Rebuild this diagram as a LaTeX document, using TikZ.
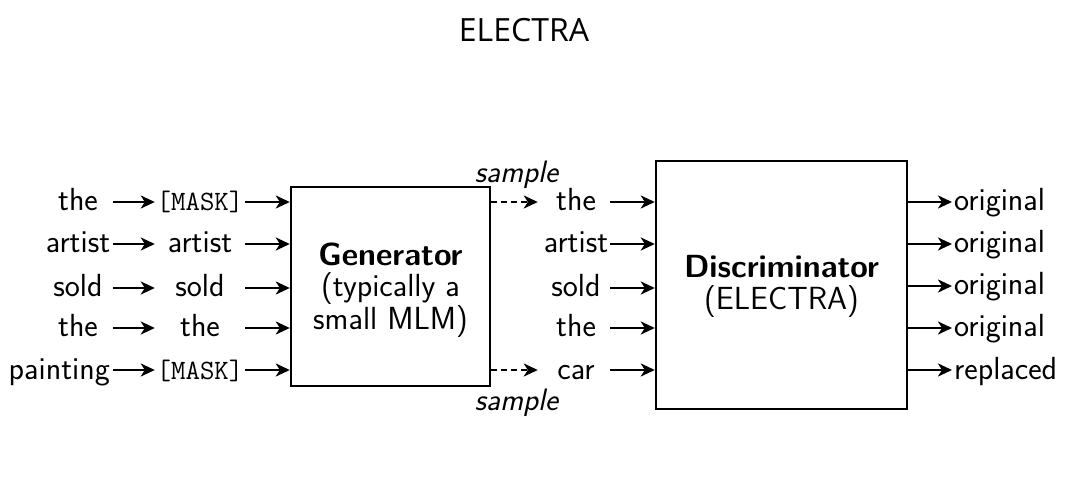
\documentclass[tikz,border=0pt]{standalone}
\usepackage{fontspec}
\newfontfamily\titlefont{Open Sans}
\usetikzlibrary{arrows.meta}
\begin{document}
\begin{tikzpicture}[x=1pt,y=-1pt,
  txt/.style={font=\sffamily\fontsize{32}{34}\selectfont, inner ysep=0pt, inner xsep=0pt, text height=22pt, text depth=4pt},
  masktxt/.style={txt, font=\ttfamily\fontsize{28}{34}\selectfont},
  col1/.style={txt, minimum width=70pt},
  col2/.style={txt, minimum width=90pt},
  col3/.style={txt, minimum width=68pt},
  col2m/.style={masktxt, minimum width=90pt},
  outtxt/.style={txt, anchor=west, inner xsep=2pt},
  arr/.style={-{Stealth[length=14pt,width=13pt,inset=4pt]}, line width=2.2pt},
  darr/.style={arr, dash pattern=on 6pt off 4pt, shorten >=4pt},
  smp/.style={font=\sffamily\itshape\fontsize{31}{34}\selectfont, inner sep=0pt},
  bigbox/.style={draw, line width=2.4pt},
  boxtxt/.style={font=\sffamily\fontsize{32}{31}\selectfont, align=center}
]
\useasboundingbox (0,0) rectangle (1080,481);
\node[font=\titlefont\fontsize{32}{34}\selectfont] (title) at (524,30) {ELECTRA};

% boxes
\node[bigbox, minimum width=199pt, minimum height=199pt] (gen) at (390.5,286.5) {};
\node[boxtxt] (gentxt) at (390.5,290) {\textbf{Generator}\\(typically a\\small MLM)};
\node[bigbox, minimum width=251pt, minimum height=248pt] (disc) at (781.5,285) {};
\node[boxtxt, font=\sffamily\fontsize{32}{32}\selectfont] (disctxt) at (781.5,286) {\textbf{Discriminator}\\(ELECTRA)};

% column 1
\node[col1] (a1) at (78,202) {the};
\node[col1] (a2) at (78,244) {artist};
\node[col1] (a3) at (78,288) {sold};
\node[col1] (a4) at (78,328) {the};
\node[txt, anchor=east, inner xsep=3pt] (a5) at (113,370) {painting};

% column 2
\node[col2m] (b1) at (200,202) {[MASK]};
\node[col2] (b2) at (200,244) {artist};
\node[col2] (b3) at (200,288) {sold};
\node[col2] (b4) at (200,328) {the};
\node[col2m] (b5) at (200,370) {[MASK]};

% column 3
\node[col3] (c1) at (576,202) {the};
\node[col3] (c2) at (576,244) {artist};
\node[col3] (c3) at (576,288) {sold};
\node[col3] (c4) at (576,328) {the};
\node[col3] (c5) at (576,370) {car};

% outputs
\node[outtxt] (d1) at (952,202) {original};
\node[outtxt] (d2) at (952,244) {original};
\node[outtxt] (d3) at (952,286) {original};
\node[outtxt] (d4) at (952,328) {original};
\node[outtxt] (d5) at (952,370) {replaced};

\foreach \i in {1,...,5}{
  \draw[arr] (a\i.east) -- (b\i.west);
  \draw[arr] (b\i.east) -- (b\i.east -| gen.west);
  \draw[arr] (c\i.east) -- (c\i.east -| disc.west);
  \draw[arr] (d\i.west -| disc.east) -- (d\i.west);
}
\draw[darr] (c1.west -| gen.east) -- node[smp, above=12pt] (s1) {sample} (c1.west);
\draw[darr] (c5.west -| gen.east) -- node[smp, below=18pt] (s2) {sample} (c5.west);
\end{tikzpicture}
\end{document}
